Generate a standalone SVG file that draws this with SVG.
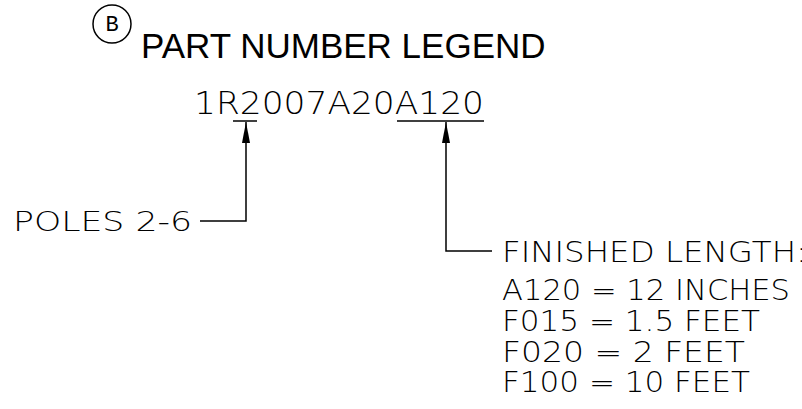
<svg xmlns="http://www.w3.org/2000/svg" width="802" height="409" viewBox="0 0 802 409">
<style>
.cad{font-family:"DejaVu Sans","Liberation Sans",sans-serif;font-weight:200;fill:#000}
.ln{stroke:#000;stroke-width:1.5;fill:none}
</style>
<defs>
<marker id="ah" viewBox="0 0 21 8" refX="21" refY="4" markerWidth="21" markerHeight="8" orient="auto" markerUnits="userSpaceOnUse">
<path d="M21,4 L0,0 L0,8 Z" fill="#000"/>
</marker>
</defs>
<rect width="802" height="409" fill="#fff"/>
<g id="title">
<circle cx="112" cy="24" r="19" class="ln" stroke-width="1.3"/>
<text x="112" y="31" text-anchor="middle" font-family="Liberation Mono,monospace" font-size="22">B</text>
<text x="141" y="58" font-family="Liberation Sans,Arial,sans-serif" font-size="35">PART NUMBER LEGEND</text>
</g>
<g id="partnumber">
<text class="cad" x="194" y="114" font-size="32" textLength="290" lengthAdjust="spacingAndGlyphs">1R2007A20A120</text>
<line class="ln" x1="233" y1="121" x2="257" y2="121"/>
<line class="ln" x1="397" y1="121" x2="484" y2="121"/>
</g>
<g id="poles">
<text class="cad" x="13" y="231" font-size="27" textLength="179" lengthAdjust="spacingAndGlyphs">POLES 2-6</text>
</g>
<g id="length">
<text class="cad" x="502" y="262" font-size="28" textLength="305" lengthAdjust="spacingAndGlyphs">FINISHED LENGTH:</text>
<text class="cad" x="502" y="300" font-size="28" textLength="288" lengthAdjust="spacingAndGlyphs">A120 = 12 INCHES</text>
<text class="cad" x="502" y="331" font-size="28" textLength="258" lengthAdjust="spacingAndGlyphs">F015 = 1.5 FEET</text>
<text class="cad" x="502" y="362" font-size="28" textLength="243" lengthAdjust="spacingAndGlyphs">F020 = 2 FEET</text>
<text class="cad" x="502" y="392" font-size="28" textLength="248" lengthAdjust="spacingAndGlyphs">F100 = 10 FEET</text>
</g>
<g id="connectors">
<path class="ln" d="M200,221 H246 V122" marker-end="url(#ah)"/>
<path class="ln" d="M492,251 H446 V122" marker-end="url(#ah)"/>
</g>
</svg>
